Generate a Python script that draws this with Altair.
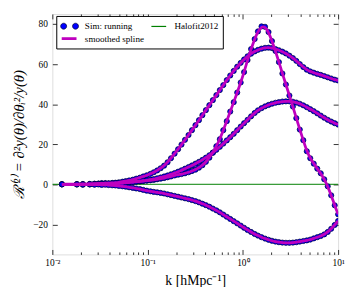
import altair as alt
import pandas as pd

# ---------------- data ----------------
k = [0.0126, 0.0181, 0.0209, 0.0247, 0.0277, 0.0305, 0.0330, 0.0360, 0.0390, 0.0425,
     0.0460, 0.0500, 0.0545, 0.0590, 0.0640, 0.0700, 0.0760, 0.0830, 0.0900, 0.0980,
     0.107, 0.116, 0.126, 0.137, 0.149, 0.162, 0.176, 0.192, 0.209, 0.227,
     0.247, 0.269, 0.292, 0.318, 0.346, 0.376, 0.409, 0.445, 0.484, 0.527,
     0.573, 0.623, 0.678, 0.737, 0.802, 0.872, 0.949, 1.03, 1.12, 1.22,
     1.33, 1.44, 1.57, 1.71, 1.86, 2.02, 2.20, 2.39, 2.60, 2.83,
     3.08, 3.35, 3.64, 3.96, 4.31, 4.69, 5.10, 5.55, 6.04, 6.57,
     7.15, 7.78, 8.46, 9.21, 10.0]

resp_peak = [0, 0.1, -0.2, 0.1, 0.3, 0.2, 0.6, 0.3, 0.2, 0.4,
             0.3, 0.5, 0.6, 0.8, 1.0, 1.1, 1.3, 1.4, 1.6, 1.8,
             2.0, 2.2, 2.5, 2.8, 3.1, 3.5, 3.9, 4.4, 4.8, 5.1,
             5.5, 6.0, 6.6, 7.3, 8.3, 9.5, 11.2, 13.3, 15.8, 19.0,
             22.5, 27.0, 31.5, 36.3, 41.0, 45.8, 50.8, 56.0, 62.0, 67.5,
             72.5, 76.3, 78.8, 78.6, 76.0, 71.5, 66.5, 61.0, 55.3, 49.8,
             44.3, 38.8, 33.0, 27.3, 22.0, 16.5, 13.0, 10.3, 7.8, 5.5,
             2.5, -1.0, -5.5, -10.5, -15.0]

resp_broad = [0, 0, 0.1, -0.1, 0.2, 0.4, 0.3, 0.6, 0.5, 0.7,
              0.8, 1.0, 1.3, 1.6, 1.9, 2.3, 2.8, 3.3, 3.9, 4.5,
              5.2, 6.0, 6.9, 8.0, 9.3, 11.0, 13.0, 15.3, 17.5, 19.8,
              22.2, 24.6, 27.0, 29.5, 32.0, 34.5, 37.0, 39.5, 42.0, 44.5,
              47.0, 49.5, 52.0, 54.3, 56.6, 58.7, 60.6, 62.3, 63.9, 65.2,
              66.3, 67.1, 67.7, 68.1, 68.2, 68.0, 67.5, 66.9, 66.2, 65.3,
              64.2, 63.0, 61.6, 60.0, 58.5, 57.2, 56.3, 55.7, 55.1, 54.6,
              54.0, 53.4, 52.8, 52.2, 51.8]

resp_mid = [0, -0.1, 0.1, 0.2, 0, 0.2, 0.1, 0.3, 0.4, 0.3,
            0.5, 0.5, 0.7, 0.9, 1.0, 1.2, 1.4, 1.6, 1.8, 2.0,
            2.3, 2.6, 3.0, 3.4, 3.9, 4.4, 5.0, 5.6, 6.3, 7.0,
            7.8, 8.6, 9.4, 10.3, 11.2, 12.2, 13.3, 14.5, 15.8, 17.2,
            18.7, 20.3, 21.9, 23.5, 25.2, 27.0, 28.8, 30.5, 32.2, 33.9,
            35.6, 36.9, 38.0, 38.9, 39.6, 40.2, 40.7, 41.0, 41.3, 41.4,
            41.4, 41.2, 40.8, 40.2, 39.4, 38.5, 37.5, 36.5, 35.4, 34.3,
            33.2, 32.2, 31.3, 30.5, 29.8]

resp_neg = [0, 0, -0.1, 0, -0.2, -0.1, -0.3, -0.2, -0.4, -0.5,
            -0.6, -0.8, -1.0, -1.2, -1.5, -1.8, -2.1, -2.4, -2.8, -3.2,
            -3.5, -3.8, -4.0, -4.3, -4.6, -5.0, -5.4, -5.8, -6.2, -6.6,
            -7.0, -7.4, -7.9, -8.4, -9.0, -9.7, -10.4, -11.2, -12.1, -13.0,
            -14.0, -15.1, -16.2, -17.3, -18.4, -19.5, -20.6, -21.7, -22.8, -23.8,
            -24.8, -25.6, -26.4, -27.1, -27.7, -28.2, -28.6, -28.9, -29.1, -29.2,
            -29.2, -29.1, -28.9, -28.6, -28.3, -28.0, -27.6, -27.0, -26.4, -25.8,
            -25.0, -23.8, -22.2, -20.3, -18.3]

halofit_k = [0.01, 10.0]
halofit_v = [0.0, 0.0]

legend_labels = ["Sim: running", "smoothed spline", "Halofit2012"]

x_major = [0.01, 0.1, 1, 10]
x_ticks = [0.01, 0.02, 0.03, 0.04, 0.05, 0.06, 0.07, 0.08, 0.09,
           0.1, 0.2, 0.3, 0.4, 0.5, 0.6, 0.7, 0.8, 0.9,
           1, 2, 3, 4, 5, 6, 7, 8, 9, 10]
y_ticks = [-20, 0, 20, 40, 60, 80]

# ---------------- tables ----------------
rows = []
for name, vals in [("peak", resp_peak), ("broad", resp_broad),
                   ("mid", resp_mid), ("neg", resp_neg)]:
    for kk, vv in zip(k, vals):
        rows.append({"k": kk, "v": vv, "curve": name})
sim = pd.DataFrame(rows)
halo = pd.DataFrame({"k": halofit_k, "v": halofit_v})
leg = pd.DataFrame({"k": [1.0], "v": [0.0], "series": [legend_labels[0]]})

FONT = "Liberation Serif"
BLUE = "#0000ff"
MAG = "#bf00bf"
GREEN = "#008000"
W, H = 290, 244

xscale = alt.Scale(type="log", domain=[0.01, 10])
yscale = alt.Scale(domain=[-35, 85], nice=False, zero=False)

tick_cond = {"condition": {"test": "indexof([0.01,0.1,1,10], datum.value) >= 0", "value": 5},
             "value": 2.5}

ax_x_label = alt.Axis(values=x_major, ticks=False, domain=False, grid=False,
                      labelExpr="datum.value < 0.05 ? '10⁻²' : datum.value < 0.5 ? '10⁻¹' : datum.value < 5 ? '10⁰' : '10¹'",
                      labelFlush=False, labelOverlap=False, labelPadding=3,
                      labelFont=FONT, labelFontSize=9.5, labelColor="black",
                      title="k [hMpc⁻¹]", titleFont=FONT, titleFontSize=14,
                      titleFontWeight="normal", titleColor="black", titlePadding=7)
ax_x_bot_ticks = alt.Axis(orient="top", offset=-H, values=x_ticks, labels=False,
                          domain=False, grid=False, tickSize=tick_cond,
                          tickColor="black", tickWidth=0.8, title=None)
ax_x_top_ticks = alt.Axis(orient="bottom", offset=-H, values=x_ticks, labels=False,
                          domain=False, grid=False, tickSize=tick_cond,
                          tickColor="black", tickWidth=0.8, title=None)

ax_y_label = alt.Axis(values=y_ticks, ticks=False, domain=False, grid=False,
                      labelFlush=False, labelOverlap=False, labelPadding=5,
                      labelFont=FONT, labelFontSize=9.5, labelColor="black",
                      title="ℛ⁽²⁾ = ∂²y(θ)/∂θᵢ²/y(θ)", titleFont=FONT,
                      titleFontSize=15, titleFontStyle="italic",
                      titleFontWeight="normal", titleColor="black", titlePadding=6)
ax_y_left_ticks = alt.Axis(orient="right", offset=-W, values=y_ticks, labels=False,
                           domain=False, grid=False, tickSize=5,
                           tickColor="black", tickWidth=0.8, title=None)
ax_y_right_ticks = alt.Axis(orient="left", offset=-W, values=y_ticks, labels=False,
                            domain=False, grid=False, tickSize=5,
                            tickColor="black", tickWidth=0.8, title=None)

halo_layer = alt.Chart(halo).mark_line(color=GREEN, strokeWidth=1, clip=True).encode(
    x=alt.X("k:Q", scale=xscale, axis=ax_x_label),
    y=alt.Y("v:Q", scale=yscale, axis=ax_y_label),
)

dots = alt.Chart(sim).mark_circle(size=28, color=BLUE, opacity=1, stroke="#000033",
                                  strokeWidth=0.7, clip=True).encode(
    x=alt.X("k:Q", scale=xscale, axis=ax_x_bot_ticks),
    y=alt.Y("v:Q", scale=yscale, axis=ax_y_left_ticks),
)

spline = alt.Chart(sim).mark_line(color=MAG, strokeWidth=2.8, interpolate="basis",
                                  clip=True).encode(
    x=alt.X("k:Q", scale=xscale, axis=ax_x_top_ticks),
    y=alt.Y("v:Q", scale=yscale, axis=ax_y_right_ticks),
    detail="curve:N",
)

two_dots = ("M-1.19,0a0.55,0.55 0 1,0 1.1,0a0.55,0.55 0 1,0 -1.1,0Z "
            "M1.0,0a0.55,0.55 0 1,0 1.1,0a0.55,0.55 0 1,0 -1.1,0Z")
line_sym = "M-1,0L1.73,0"

legend = alt.Legend(title=None, orient="none", legendX=4, legendY=2, columns=2,
                    strokeColor="black", fillColor="white", padding=4, cornerRadius=0,
                    symbolSize=121, labelOffset=11, columnPadding=5, rowPadding=0,
                    labelFont=FONT, labelFontSize=9.2, labelColor="black",
                    symbolOpacity=1)

legend_layer = alt.Chart(leg).transform_filter("datum.v > 1000").mark_point(
    filled=True, opacity=1).encode(
    x=alt.X("k:Q", scale=xscale, axis=None),
    y=alt.Y("v:Q", scale=yscale, axis=None),
    fill=alt.Fill("series:N", scale=alt.Scale(domain=legend_labels,
                                              range=[BLUE, MAG, GREEN]), legend=legend),
    stroke=alt.Stroke("series:N", scale=alt.Scale(domain=legend_labels,
                                                  range=["#000033", MAG, GREEN]), legend=legend),
    shape=alt.Shape("series:N", scale=alt.Scale(domain=legend_labels,
                                                range=[two_dots, line_sym, line_sym]), legend=legend),
    strokeWidth=alt.StrokeWidth("series:N", scale=alt.Scale(type="ordinal", domain=legend_labels,
                                                            range=[0.7, 2.8, 1.2]), legend=legend),
)

chart = alt.layer(halo_layer, dots, spline, legend_layer).resolve_axis(
    x="independent", y="independent"
).properties(
    width=W, height=H,
    autosize=alt.AutoSizeParams(type="none"),
    padding={"left": 45, "top": 4, "right": 8, "bottom": 31},
).configure_view(stroke="black", strokeWidth=1).configure(background="white")

chart.save("out.html", embed_options={"renderer": "svg", "actions": False})
